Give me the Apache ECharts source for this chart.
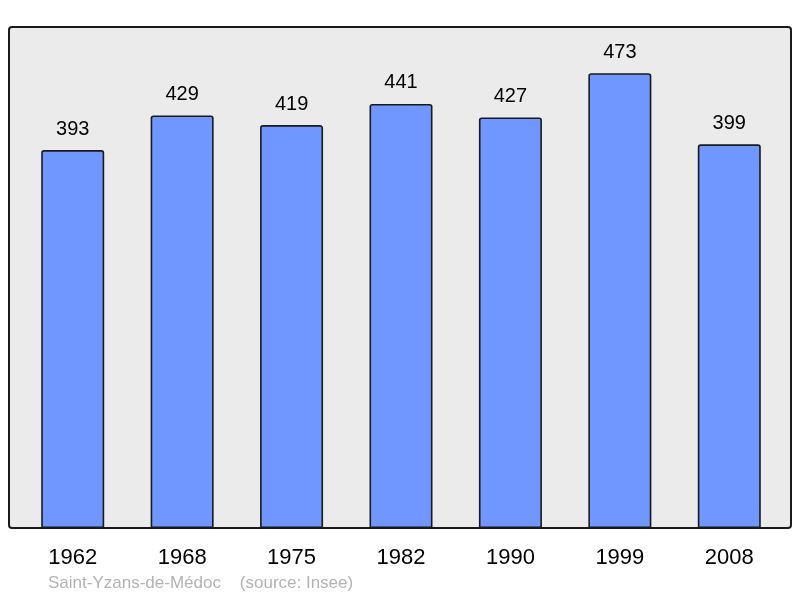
<!DOCTYPE html>
<html><head><meta charset="utf-8">
<script src="https://cdn.jsdelivr.net/npm/echarts@6/dist/echarts.min.js"></script>
<style>html,body{margin:0;padding:0;background:#fff}#c{width:800px;height:598px}</style>
</head><body><div id="c"></div>
<script>
var years = ['1962','1968','1975','1982','1990','1999','2008'];
var population = [393,429,419,441,427,473,399];
var footer = 'Saint-Yzans-de-Médoc    (source: Insee)';

var chart = echarts.init(document.getElementById('c'), null, {renderer:'canvas'});
chart.setOption({
  animation:false,
  graphic:[
    {type:'rect', z:-10, shape:{x:9,y:27,width:782,height:501,r:3},
     style:{fill:'#ebebeb',stroke:'#1a1a1a',lineWidth:2}},
    {type:'text', left:48, top:575, style:{text:footer,fill:'#b3b3b3',font:'17px "Liberation Sans", Arial, sans-serif'}}
  ],
  grid:{left:18,right:16,top:28,bottom:70},
  xAxis:{type:'category',data:years,
    axisLine:{show:false},axisTick:{show:false},
    axisLabel:{color:'#000',fontSize:22,fontFamily:'Liberation Sans',margin:19}},
  yAxis:{type:'value',min:0,max:520,show:false,splitLine:{show:false}},
  series:[{type:'bar',data:population,barWidth:63,
    itemStyle:{color:'#7096ff',borderColor:'#1a1a1a',borderWidth:1.6,borderRadius:[2,2,0,0]},
    label:{show:true,position:'top',distance:11,color:'#000',fontSize:20,fontFamily:'Liberation Sans'}}]
});
</script></body></html>
